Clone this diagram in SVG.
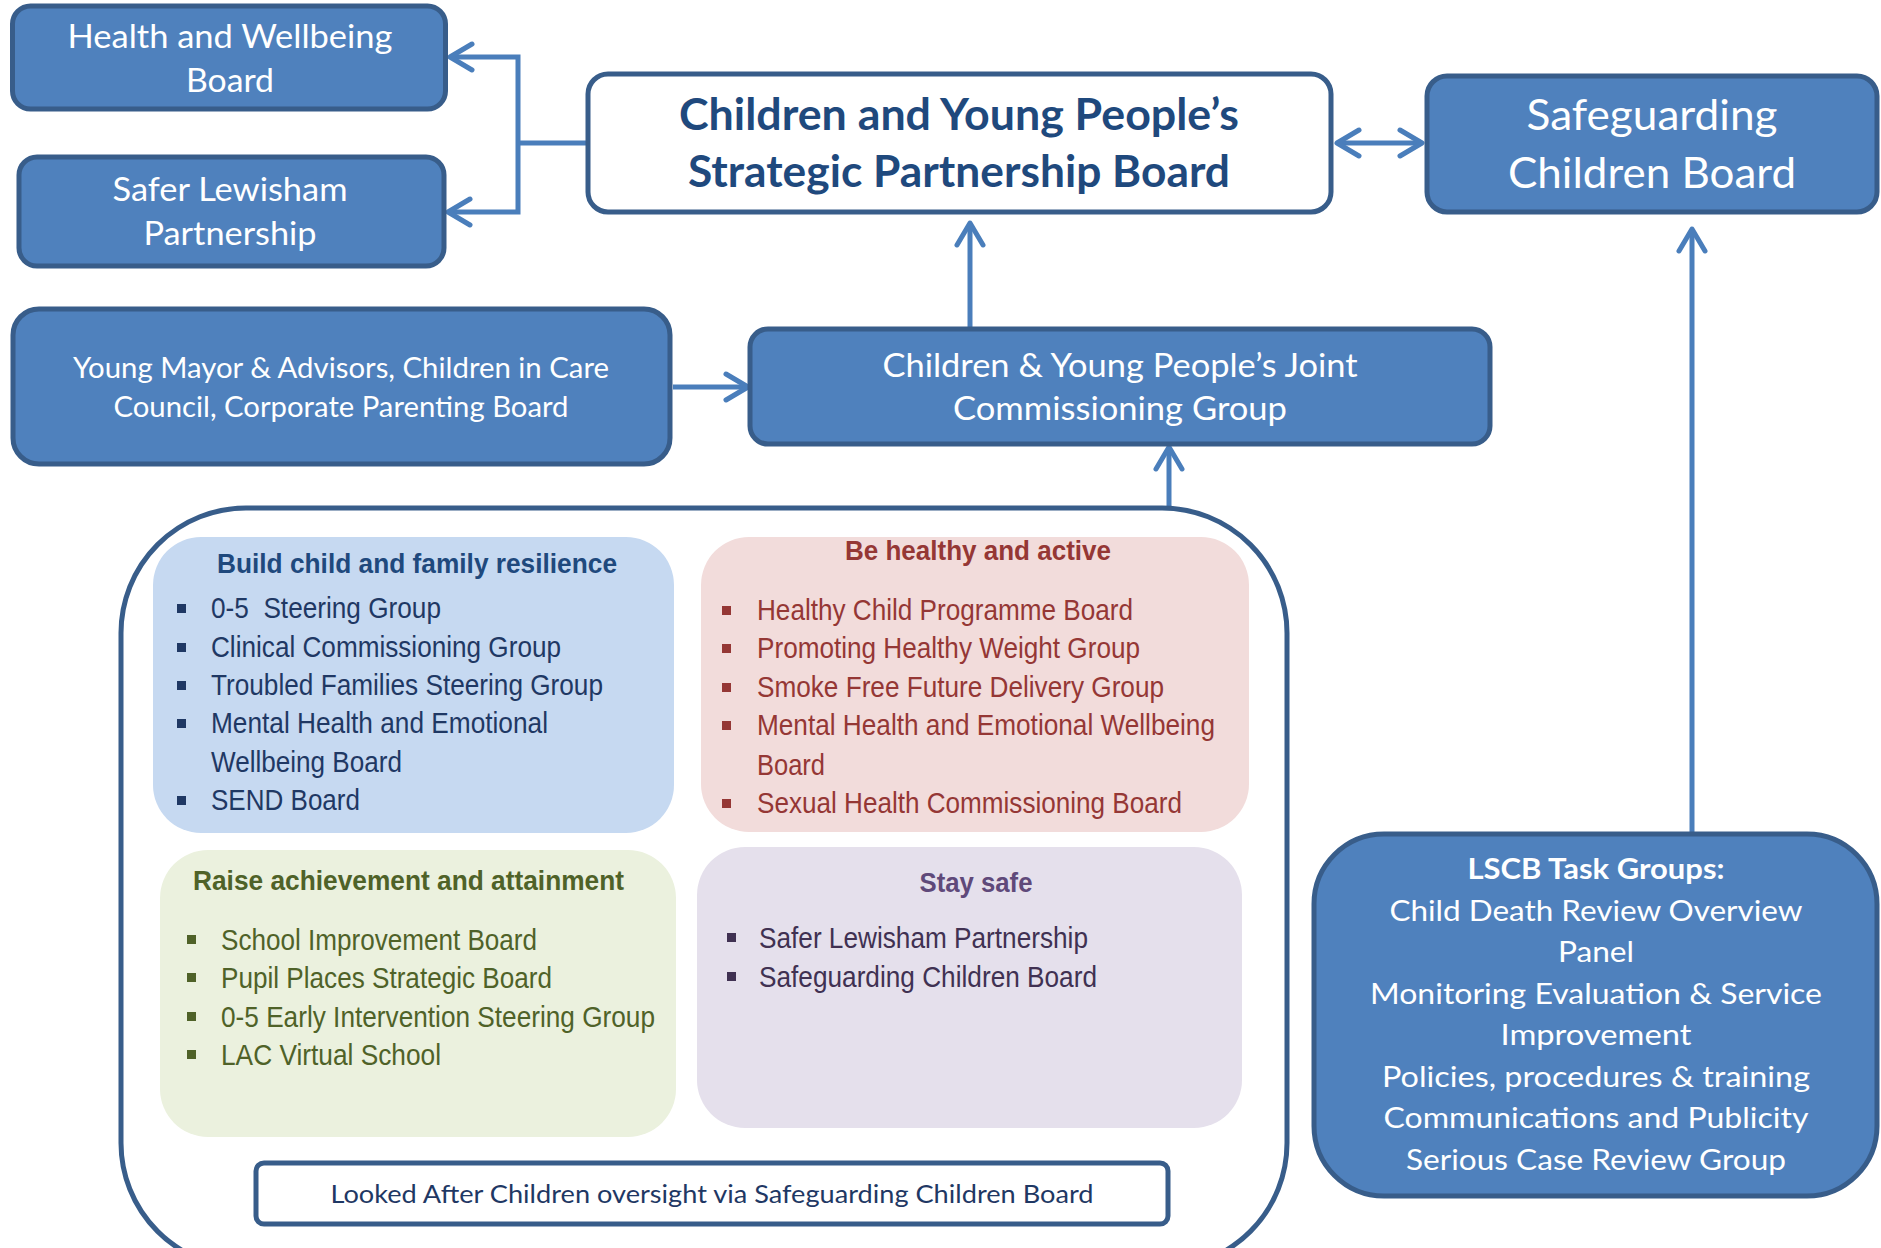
<svg xmlns="http://www.w3.org/2000/svg" width="1881" height="1248" viewBox="0 0 1881 1248">
<defs>
<style>
.box{fill:#4f81bd;stroke:#385d8a;stroke-width:5}
.wbox{fill:#ffffff;stroke:#385d8a;stroke-width:5}
.cal{font-family:Lato,'Open Sans','Liberation Sans',sans-serif}
.nar{font-family:'Liberation Sans Narrow','Liberation Sans',Arial,sans-serif}
.wt{fill:#ffffff}
.conn{fill:none;stroke:#4a7ebb;stroke-width:5;stroke-linejoin:miter}
.mk{fill:none;stroke:#4a7ebb;stroke-width:5;stroke-linecap:round;stroke-linejoin:round}
.blue{fill:#1f3864}
.red{fill:#953735}
.grn{fill:#4f6228}
.pur{fill:#403152}
</style>
<marker id="arr" markerUnits="userSpaceOnUse" markerWidth="32" markerHeight="34" refX="27" refY="17" orient="auto-start-reverse" overflow="visible">
<path class="mk" d="M5,4 L27,17 L5,30"/>
</marker>
</defs>

<g id="connectors">
<path class="conn" d="M588,143 H518"/>
<path class="conn" d="M518,143 V57 H450" marker-end="url(#arr)"/>
<path class="conn" d="M518,143 V212 H448" marker-end="url(#arr)"/>
<path class="conn" d="M1337,143 H1422" marker-start="url(#arr)" marker-end="url(#arr)"/>
<path class="conn" d="M970,328 V223" marker-end="url(#arr)"/>
<path class="conn" d="M673,387 H748" marker-end="url(#arr)"/>
<path class="conn" d="M1169,508 V447" marker-end="url(#arr)"/>
<path class="conn" d="M1692,833 V229" marker-end="url(#arr)"/>
</g>

<g id="health-wellbeing">
<rect class="box" x="12.5" y="6" width="433" height="103" rx="18"/>
<text class="cal wt" font-size="32" text-anchor="middle" x="230" y="48" textLength="325" lengthAdjust="spacingAndGlyphs">Health and Wellbeing</text>
<text class="cal wt" font-size="32" text-anchor="middle" x="230" y="92" textLength="88" lengthAdjust="spacingAndGlyphs">Board</text>
</g>

<g id="safer-lewisham">
<rect class="box" x="19" y="157" width="425" height="109" rx="18"/>
<text class="cal wt" font-size="32" text-anchor="middle" x="230" y="201" textLength="235" lengthAdjust="spacingAndGlyphs">Safer Lewisham</text>
<text class="cal wt" font-size="32" text-anchor="middle" x="230" y="245" textLength="173" lengthAdjust="spacingAndGlyphs">Partnership</text>
</g>

<g id="young-mayor">
<rect class="box" x="13" y="309" width="657" height="155" rx="26"/>
<text class="cal wt" font-size="28" text-anchor="middle" x="341" y="378" textLength="536" lengthAdjust="spacingAndGlyphs">Young Mayor &amp; Advisors, Children in Care</text>
<text class="cal wt" font-size="28" text-anchor="middle" x="341" y="417" textLength="455" lengthAdjust="spacingAndGlyphs">Council, Corporate Parenting Board</text>
</g>

<g id="cyp-strategic">
<rect class="wbox" x="588" y="74" width="743" height="138" rx="20"/>
<text class="cal" fill="#1f497d" font-weight="bold" font-size="44" text-anchor="middle" x="959" y="130" textLength="560" lengthAdjust="spacingAndGlyphs">Children and Young People’s</text>
<text class="cal" fill="#1f497d" font-weight="bold" font-size="44" text-anchor="middle" x="959" y="187" textLength="542" lengthAdjust="spacingAndGlyphs">Strategic Partnership Board</text>
</g>

<g id="safeguarding-board">
<rect class="box" x="1427" y="76" width="450" height="136" rx="20"/>
<text class="cal wt" font-size="42" text-anchor="middle" x="1652" y="130" textLength="251" lengthAdjust="spacingAndGlyphs">Safeguarding</text>
<text class="cal wt" font-size="42" text-anchor="middle" x="1652" y="188" textLength="288" lengthAdjust="spacingAndGlyphs">Children Board</text>
</g>

<g id="joint-commissioning">
<rect class="box" x="750" y="329" width="740" height="115" rx="18"/>
<text class="cal wt" font-size="32" text-anchor="middle" x="1120" y="377" textLength="475" lengthAdjust="spacingAndGlyphs">Children &amp; Young People’s Joint</text>
<text class="cal wt" font-size="32" text-anchor="middle" x="1120" y="420" textLength="334" lengthAdjust="spacingAndGlyphs">Commissioning Group</text>
</g>

<g id="priorities-container">
<rect x="121" y="508" width="1166" height="760" rx="125" fill="#ffffff" stroke="#385d8a" stroke-width="5"/>
</g>

<g id="build-resilience">
<rect x="153" y="537" width="521" height="296" rx="48" fill="#c6d9f1"/>
<text class="nar" fill="#1f497d" font-weight="bold" font-size="28" text-anchor="middle" x="417" y="573" textLength="400" lengthAdjust="spacingAndGlyphs">Build child and family resilience</text>
<g class="blue">
<rect x="177" y="604" width="9" height="9"/>
<rect x="177" y="643" width="9" height="9"/>
<rect x="177" y="681" width="9" height="9"/>
<rect x="177" y="719" width="9" height="9"/>
<rect x="177" y="796" width="9" height="9"/>
</g>
<g class="nar blue" font-size="30">
<text x="211" y="618" textLength="230" lengthAdjust="spacingAndGlyphs" style="white-space:pre">0-5  Steering Group</text>
<text x="211" y="657" textLength="350" lengthAdjust="spacingAndGlyphs">Clinical Commissioning Group</text>
<text x="211" y="695" textLength="392" lengthAdjust="spacingAndGlyphs">Troubled Families Steering Group</text>
<text x="211" y="733" textLength="337" lengthAdjust="spacingAndGlyphs">Mental Health and Emotional</text>
<text x="211" y="772" textLength="191" lengthAdjust="spacingAndGlyphs">Wellbeing Board</text>
<text x="211" y="810" textLength="149" lengthAdjust="spacingAndGlyphs">SEND Board</text>
</g>
</g>

<g id="be-healthy">
<rect x="701" y="537" width="548" height="295" rx="48" fill="#f2dcdb"/>
<text class="nar red" font-weight="bold" font-size="28" text-anchor="middle" x="978" y="560" textLength="266" lengthAdjust="spacingAndGlyphs">Be healthy and active</text>
<g class="red">
<rect x="722" y="606" width="9" height="9"/>
<rect x="722" y="644" width="9" height="9"/>
<rect x="722" y="683" width="9" height="9"/>
<rect x="722" y="721" width="9" height="9"/>
<rect x="722" y="799" width="9" height="9"/>
</g>
<g class="nar red" font-size="30">
<text x="757" y="620" textLength="376" lengthAdjust="spacingAndGlyphs">Healthy Child Programme Board</text>
<text x="757" y="658" textLength="383" lengthAdjust="spacingAndGlyphs">Promoting Healthy Weight Group</text>
<text x="757" y="697" textLength="407" lengthAdjust="spacingAndGlyphs">Smoke Free Future Delivery Group</text>
<text x="757" y="735" textLength="458" lengthAdjust="spacingAndGlyphs">Mental Health and Emotional Wellbeing</text>
<text x="757" y="775" textLength="68" lengthAdjust="spacingAndGlyphs">Board</text>
<text x="757" y="813" textLength="425" lengthAdjust="spacingAndGlyphs">Sexual Health Commissioning Board</text>
</g>
</g>

<g id="raise-achievement">
<rect x="160" y="850" width="516" height="287" rx="48" fill="#ebf1de"/>
<text class="nar grn" font-weight="bold" font-size="28" x="193" y="890" textLength="431" lengthAdjust="spacingAndGlyphs">Raise achievement and attainment</text>
<g class="grn">
<rect x="187" y="935" width="9" height="9"/>
<rect x="187" y="973" width="9" height="9"/>
<rect x="187" y="1012" width="9" height="9"/>
<rect x="187" y="1050" width="9" height="9"/>
</g>
<g class="nar grn" font-size="30">
<text x="221" y="950" textLength="316" lengthAdjust="spacingAndGlyphs">School Improvement Board</text>
<text x="221" y="988" textLength="331" lengthAdjust="spacingAndGlyphs">Pupil Places Strategic Board</text>
<text x="221" y="1027" textLength="434" lengthAdjust="spacingAndGlyphs">0-5 Early Intervention Steering Group</text>
<text x="221" y="1065" textLength="220" lengthAdjust="spacingAndGlyphs">LAC Virtual School</text>
</g>
</g>

<g id="stay-safe">
<rect x="697" y="847" width="545" height="281" rx="48" fill="#e5e0ec"/>
<text class="nar" fill="#5f497a" font-weight="bold" font-size="28" text-anchor="middle" x="976" y="892" textLength="113" lengthAdjust="spacingAndGlyphs">Stay safe</text>
<g class="pur">
<rect x="727" y="933" width="9" height="9"/>
<rect x="727" y="972" width="9" height="9"/>
</g>
<g class="nar pur" font-size="30">
<text x="759" y="948" textLength="329" lengthAdjust="spacingAndGlyphs">Safer Lewisham Partnership</text>
<text x="759" y="987" textLength="338" lengthAdjust="spacingAndGlyphs">Safeguarding Children Board</text>
</g>
</g>

<g id="looked-after">
<rect class="wbox" x="256" y="1163" width="912" height="61" rx="8"/>
<text class="cal" fill="#1f3864" font-size="25" text-anchor="middle" x="712" y="1203" textLength="763" lengthAdjust="spacingAndGlyphs">Looked After Children oversight via Safeguarding Children Board</text>
</g>

<g id="lscb-task-groups">
<rect class="box" x="1314" y="834" width="563" height="362" rx="70"/>
<g class="cal wt" font-size="29" text-anchor="middle">
<text x="1596" y="879" font-weight="bold" textLength="257" lengthAdjust="spacingAndGlyphs">LSCB Task Groups:</text>
<text x="1596" y="921" textLength="413" lengthAdjust="spacingAndGlyphs">Child Death Review Overview</text>
<text x="1596" y="962" textLength="76" lengthAdjust="spacingAndGlyphs">Panel</text>
<text x="1596" y="1004" textLength="452" lengthAdjust="spacingAndGlyphs">Monitoring Evaluation &amp; Service</text>
<text x="1596" y="1045" textLength="191" lengthAdjust="spacingAndGlyphs">Improvement</text>
<text x="1596" y="1087" textLength="428" lengthAdjust="spacingAndGlyphs">Policies, procedures &amp; training</text>
<text x="1596" y="1128" textLength="425" lengthAdjust="spacingAndGlyphs">Communications and Publicity</text>
<text x="1596" y="1170" textLength="380" lengthAdjust="spacingAndGlyphs">Serious Case Review Group</text>
</g>
</g>
</svg>
